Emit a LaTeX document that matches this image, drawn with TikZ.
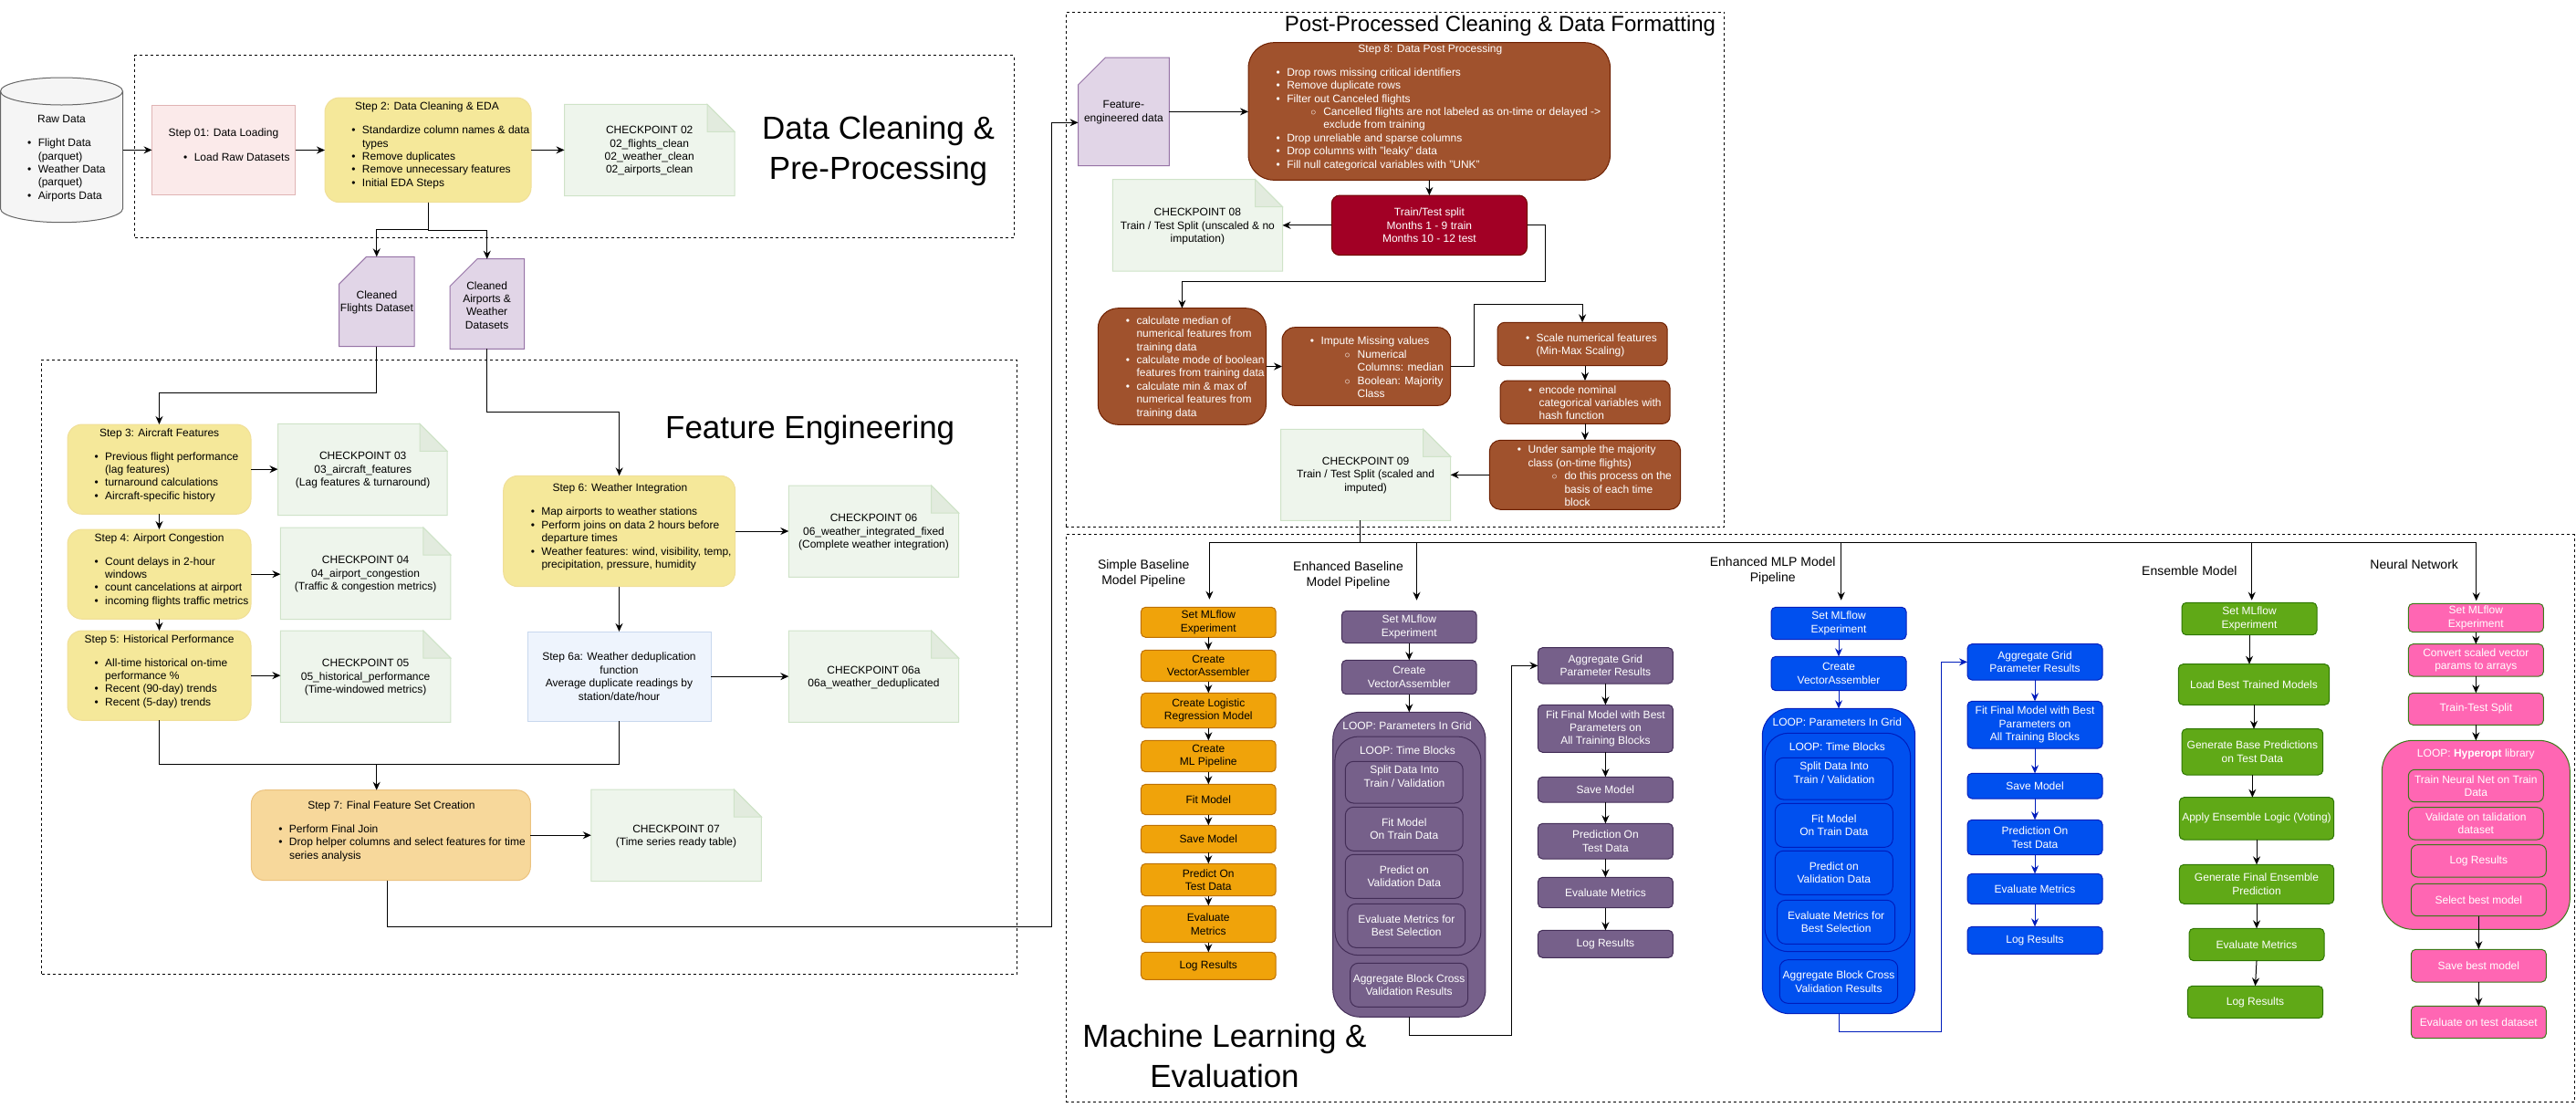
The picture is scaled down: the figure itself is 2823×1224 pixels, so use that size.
\documentclass[tikz,border=0pt]{standalone}
\usepackage{fontspec}
\setmainfont{Liberation Sans}
\usetikzlibrary{arrows.meta}
\definecolor{yel}{HTML}{F5E89A}\definecolor{yels}{HTML}{F0DF98}
\definecolor{ckf}{HTML}{EEF5EC}\definecolor{cks}{HTML}{CFE3C8}\definecolor{ckd}{HTML}{E2EBDE}
\definecolor{brn}{HTML}{A0522D}\definecolor{brns}{HTML}{6D1F00}
\definecolor{orf}{HTML}{F0A30A}\definecolor{ors}{HTML}{BD7000}
\definecolor{puf}{HTML}{76608A}\definecolor{pus}{HTML}{432D57}
\definecolor{blf}{HTML}{0050EF}\definecolor{bls}{HTML}{001DBC}
\definecolor{grf}{HTML}{60A917}\definecolor{grs}{HTML}{2D7600}
\definecolor{pkf}{HTML}{FF66B3}
\definecolor{crf}{HTML}{E1D5E7}\definecolor{crs}{HTML}{9673A6}
\definecolor{pinkl}{HTML}{FBEAEA}\definecolor{pinks}{HTML}{E0B4B4}
\definecolor{skyl}{HTML}{EEF4FD}\definecolor{skys}{HTML}{C8D8EE}
\definecolor{tanf}{HTML}{F7D89B}\definecolor{tans}{HTML}{EBC27F}
\definecolor{crim}{HTML}{A20025}\definecolor{crims}{HTML}{6F0000}
\definecolor{cylf}{HTML}{F5F5F5}\definecolor{cyls}{HTML}{666666}
\tikzset{
  base/.style={inner sep=0pt,outer sep=0pt,align=center,rectangle},
  ghost/.style={base},
  txt/.style={inner sep=0pt,outer sep=0pt,align=center},
  frame/.style={base,draw=black,line width=1pt,dash pattern=on 3pt off 3pt},
  arr/.style={draw=black,line width=1pt,-{Stealth[length=9pt,width=8pt,inset=3pt]}},
  ln/.style={draw=black,line width=1pt},
  barr/.style={arr,draw=bls,-{Stealth[length=9pt,width=8pt,inset=3pt,bls]}},
  stepy/.style={base,fill=yel,draw=yels,line width=1pt,rounded corners=16pt},
  brnb/.style={base,fill=brn,draw=brns,line width=1pt,rounded corners=#1,text=white},
  orb/.style={base,fill=orf,draw=ors,line width=1pt,rounded corners=5pt,text=black},
  pub/.style={base,fill=puf,draw=pus,line width=1pt,rounded corners=#1,text=white},
  pub/.default=5pt,
  blb/.style={base,fill=blf,draw=bls,line width=1pt,rounded corners=#1,text=white},
  blb/.default=5pt,
  grb/.style={base,fill=grf,draw=grs,line width=1pt,rounded corners=5pt,text=white},
  pkb/.style={base,fill=pkf,draw=grs!80!gray,line width=1pt,rounded corners=#1,text=white},
  pkb/.default=5pt,
}
\newcommand\bxx[7]{\pgfmathsetmacro\bxw{#5-#3}\pgfmathsetmacro\bxh{#6-#4}\pgfmathsetmacro\bxc{(#3+#5)/2}\pgfmathsetmacro\bxm{(#4+#6)/2}\node[#1,minimum width=\bxw pt,minimum height=\bxh pt] (#2) at (\bxc,\bxm) {#7};}
\newcommand\ctrt[5][]{\node[txt,#1] (#2) at (#3,#4) {#5};}
\newcommand\lsts[5][]{\node[txt,align=left,anchor=west,#1] (#2) at (#3,#4) {#5};}
\newcommand\ckpt[5]{\bxx{ghost}{#1}{#2}{#3}{#4}{#5}{}
  \draw[fill=ckf,draw=cks,line width=1pt] (#2,#3) -- ({#4-30},#3) -- (#4,{#3+30}) -- (#4,#5) -- (#2,#5) -- cycle;
  \draw[fill=ckd,draw=cks,line width=1pt] ({#4-30},#3) -- (#4,{#3+30}) -- ({#4-30},{#3+30}) -- cycle;}
\newcommand\crd[5]{\bxx{ghost}{#1}{#2}{#3}{#4}{#5}{}
  \draw[fill=crf,draw=crs,line width=1pt] ({#2+30},#3) -- (#4,#3) -- (#4,#5) -- (#2,#5) -- (#2,{#3+30}) -- cycle;}
\newcommand\bul{\leavevmode\llap{\textbullet\hspace{7.5pt}}}
\newcommand\subul{\hspace*{40pt}\llap{$\circ$\hspace{8pt}}}
\newcommand\subin{\hspace*{40pt}}
\newcommand\bigf{\fontsize{35}{43.2}\selectfont}
\newcommand\midf{\fontsize{24}{28.8}\selectfont}
\newcommand\labf{\fontsize{14}{16.8}\selectfont}
\begin{document}
\begin{tikzpicture}[x=1pt,y=-1pt,every node/.style={font=\fontsize{12}{14.4}\selectfont}]
\useasboundingbox (0,0) rectangle (2823,1224);
% frames
\bxx{frame}{frA}{147.5}{60.7}{1111}{260}{}
\bxx{frame}{frB}{45.5}{394.3}{1114}{1067.7}{}
\bxx{frame}{frC}{1168}{13.3}{1889.7}{577.7}{}
\bxx{frame}{frD}{1168}{585.7}{2821.3}{1207.3}{}
% titles
\ctrt[font=\bigf]{tA}{962.6}{165.5}{Data Cleaning \&\\Pre-Processing}
\ctrt[font=\bigf]{tB}{887.7}{471}{Feature Engineering}
\ctrt[font=\midf]{tC}{1644}{28.3}{Post-Processed Cleaning \& Data Formatting}
\ctrt[font=\bigf]{tD}{1342}{1157}{Machine Learning \&\\Evaluation}
% raw data cylinder
\bxx{ghost}{raw}{0.5}{85}{134.5}{243.7}{}
\draw[fill=cylf,draw=cyls,line width=1pt] (0.5,100) -- (0.5,228.7) .. controls (0.5,237) and (30.6,243.7) .. (67.5,243.7) .. controls (104.4,243.7) and (134.5,237) .. (134.5,228.7) -- (134.5,100) .. controls (134.5,91.7) and (104.4,85) .. (67.5,85) .. controls (30.6,85) and (0.5,91.7) .. (0.5,100) -- cycle;
\draw[draw=cyls,line width=1pt] (0.5,100) .. controls (0.5,108.3) and (30.6,115) .. (67.5,115) .. controls (104.4,115) and (134.5,108.3) .. (134.5,100);
\ctrt{rawT}{67.5}{130.7}{Raw Data}
\lsts{rawL}{41.8}{186.4}{\bul Flight Data\\(parquet)\\\bul Weather Data\\(parquet)\\\bul Airports Data}
% step 1
\bxx{base,fill=pinkl,draw=pinks,line width=1pt}{s1}{166.5}{115.3}{323.5}{213.7}{}
\ctrt{s1T}{245}{146}{Step 01: Data Loading}
\lsts{s1L}{212.8}{172.7}{\bul Load Raw Datasets}
% step 2
\bxx{stepy}{s2}{356}{107}{582}{221.7}{}
\ctrt{s2T}{468}{117}{Step 2: Data Cleaning \& EDA}
\lsts{s2L}{397}{172.4}{\bul Standardize column names \& data\\types\\\bul Remove duplicates\\\bul Remove unnecessary features\\\bul Initial EDA Steps}
\ckpt{c2}{618.5}{114.3}{805}{214.7}
\ctrt{c2T}{711.7}{165.3}{CHECKPOINT 02\\02\_flights\_clean\\02\_weather\_clean\\02\_airports\_clean}
\crd{cf}{371.5}{281.3}{454}{379.7}
\ctrt{cfT}{413}{331.2}{Cleaned\\Flights Dataset}
\crd{ca}{493}{283.7}{574.5}{382.3}
\ctrt{caT}{533.6}{334.5}{Cleaned\\Airports \&\\Weather\\Datasets}
% step 3
\bxx{stepy}{s3}{74}{465}{275}{563.3}{}
\ctrt{s3T}{174.6}{475}{Step 3: Aircraft Features}
\lsts{s3L}{115.2}{522.5}{\bul Previous flight performance\\(lag features)\\\bul turnaround calculations\\\bul Aircraft-specific history}
\ckpt{c3}{304.5}{464.3}{490}{564.7}
\ctrt{c3T}{397.7}{515.3}{CHECKPOINT 03\\03\_aircraft\_features\\(Lag features \& turnaround)}
% step 4
\bxx{stepy}{s4}{74}{580}{275}{678.3}{}
\ctrt{s4T}{174.6}{590}{Step 4: Airport Congestion}
\lsts{s4L}{115.2}{637.5}{\bul Count delays in 2-hour\\windows\\\bul count cancelations at airport\\\bul incoming flights traffic metrics}
\ckpt{c4}{307.4}{578}{493.8}{678.7}
\ctrt{c4T}{400.6}{629.3}{CHECKPOINT 04\\04\_airport\_congestion\\(Traffic \& congestion metrics)}
% step 5
\bxx{stepy}{s5}{74}{691}{275}{789.3}{}
\ctrt{s5T}{174.6}{701}{Step 5: Historical Performance}
\lsts{s5L}{115.2}{748.5}{\bul All-time historical on-time\\performance \%\\\bul Recent (90-day) trends\\\bul Recent (5-day) trends}
\ckpt{c5}{307.4}{691}{493.8}{791.3}
\ctrt{c5T}{400.6}{742.3}{CHECKPOINT 05\\05\_historical\_performance\\(Time-windowed metrics)}
% step 6
\bxx{stepy}{s6}{551.7}{521.3}{805.6}{642.7}{}
\ctrt{s6T}{679.4}{535}{Step 6: Weather Integration}
\lsts{s6L}{593.5}{590.5}{\bul Map airports to weather stations\\\bul Perform joins on data 2 hours before\\departure times\\\bul Weather features: wind, visibility, temp,\\precipitation, pressure, humidity}
\ckpt{c6}{864.3}{532}{1050.6}{632.3}
\ctrt{c6T}{957.5}{583.3}{CHECKPOINT 06\\06\_weather\_integrated\_fixed\\(Complete weather integration)}
\bxx{base,fill=skyl,draw=skys,line width=1pt}{s6a}{578}{692}{779}{790.3}{Step 6a: Weather deduplication\\function\\Average duplicate readings by\\station/date/hour}
\ckpt{c6a}{864.3}{691}{1050.6}{791.3}
\ctrt{c6aT}{957.5}{742.3}{CHECKPOINT 06a\\06a\_weather\_deduplicated}
% step 7
\bxx{base,fill=tanf,draw=tans,line width=1pt,rounded corners=15pt}{s7}{275.4}{865.7}{581.3}{964.7}{}
\ctrt{s7T}{429}{883}{Step 7: Final Feature Set Creation}
\lsts{s7L}{317}{923.5}{\bul Perform Final Join\\\bul Drop helper columns and select features for time\\series analysis}
\ckpt{c7}{647.8}{865}{834.3}{965.7}
\ctrt{c7T}{741}{916.3}{CHECKPOINT 07\\(Time series ready table)}
% post processing
\crd{fe}{1181.5}{63}{1281.4}{181.7}
\ctrt{feT}{1231.4}{123}{Feature-\\engineered data}
\bxx{brnb=28pt}{s8}{1368}{46.7}{1764.6}{197.3}{}
\ctrt[text=white]{s8T}{1567.4}{54}{Step 8: Data Post Processing}
\lsts[text=white]{s8L}{1410.3}{130.5}{\bul Drop rows missing critical identifiers\\\bul Remove duplicate rows\\\bul Filter out Canceled flights\\\subul Cancelled flights are not labeled as on-time or delayed ->\\\subin exclude from training\\\bul Drop unreliable and sparse columns\\\bul Drop columns with "leaky" data\\\bul Fill null categorical variables with "UNK"}
\bxx{base,fill=crim,draw=crims,line width=1pt,rounded corners=9pt,text=white}{tt}{1459.3}{214}{1673.5}{279.7}{Train/Test split\\Months 1 - 9 train\\Months 10 - 12 test}
\ckpt{c8}{1219.3}{196.7}{1405.5}{297}
\ctrt{c8T}{1312.4}{248.3}{CHECKPOINT 08\\Train / Test Split (unscaled \& no\\imputation)}
\bxx{brnb=22pt}{calc}{1203.3}{337.7}{1387.5}{465.3}{}
\lsts[text=white]{calcL}{1245.5}{402.5}{\bul calculate median of\\numerical features from\\training data\\\bul calculate mode of boolean\\features from training data\\\bul calculate min \& max of\\numerical features from\\training data}
\bxx{brnb=14pt}{imp}{1405}{358.7}{1589.7}{444.3}{}
\lsts[text=white]{impL}{1447.6}{402.5}{\bul Impute Missing values\\\subul Numerical\\\subin Columns: median\\\subul Boolean: Majority\\\subin Class}
\bxx{brnb=8pt}{sc}{1641}{353.3}{1827.2}{400.7}{}
\lsts[text=white]{scL}{1683.7}{378.5}{\bul Scale numerical features\\(Min-Max Scaling)}
\bxx{brnb=8pt}{en}{1644}{417}{1830}{464.3}{}
\lsts[text=white]{enL}{1686.6}{441.3}{\bul encode nominal\\categorical variables with\\hash function}
\bxx{brnb=12pt}{un}{1632.3}{482.3}{1841.7}{558.3}{}
\lsts[text=white]{unL}{1674.5}{521.5}{\bul Under sample the majority\\class (on-time flights)\\\subul do this process on the\\\subin basis of each time\\\subin block}
\ckpt{c9}{1403.5}{470.3}{1589.7}{570.3}
\ctrt{c9T}{1496.6}{521}{CHECKPOINT 09\\Train / Test Split (scaled and\\imputed)}
% pipeline labels
\ctrt[font=\labf]{l1}{1253.2}{628.5}{Simple Baseline\\Model Pipeline}
\ctrt[font=\labf]{l2}{1477.5}{630.5}{Enhanced Baseline\\Model Pipeline}
\ctrt[font=\labf]{l3}{1942.7}{625.5}{Enhanced MLP Model\\Pipeline}
\ctrt[font=\labf]{l4}{2399.3}{625}{Ensemble Model}
\ctrt[font=\labf]{l5}{2645.7}{618}{Neural Network}
% orange
\bxx{orb}{o1}{1250.4}{665.3}{1398.2}{698.3}{Set MLflow\\Experiment}
\bxx{orb}{o2}{1250.4}{712.3}{1398.2}{746.7}{Create\\VectorAssembler}
\bxx{orb}{o3}{1250.4}{759.3}{1398.2}{797.7}{Create Logistic\\Regression Model}
\bxx{orb}{o4}{1250.4}{811.3}{1398.2}{845.7}{Create\\ML Pipeline}
\bxx{orb}{o5}{1250.4}{859.3}{1398.2}{892.7}{Fit Model}
\bxx{orb}{o6}{1250.4}{904.3}{1398.2}{934.3}{Save Model}
\bxx{orb}{o7}{1250.4}{946.3}{1398.2}{981.7}{Predict On\\Test Data}
\bxx{orb}{o8}{1250.4}{992.3}{1398.2}{1032.7}{Evaluate\\Metrics}
\bxx{orb}{o9}{1250.4}{1043.3}{1398.2}{1073.3}{Log Results}
% purple
\bxx{pub}{p1}{1470.4}{669.3}{1618.2}{704.7}{Set MLflow\\Experiment}
\bxx{pub}{p2}{1470.4}{723.3}{1618.2}{760.7}{Create\\VectorAssembler}
\bxx{pub=30pt}{pO}{1460.7}{780.3}{1627.9}{1114.3}{}
\ctrt[text=white]{pOT}{1542}{794.7}{LOOP: Parameters In Grid}
\bxx{pub=26pt}{pI}{1462.9}{807}{1622.9}{1046.7}{}
\ctrt[text=white]{pIT}{1542.5}{821.7}{LOOP: Time Blocks}
\bxx{pub=9pt}{p3}{1474.3}{834.3}{1603.2}{880}{}
\ctrt[text=white]{p3T}{1539}{850.7}{Split Data Into\\Train / Validation}
\bxx{pub=9pt}{p4}{1474.3}{884.3}{1603.2}{932.3}{Fit Model\\On Train Data}
\bxx{pub=9pt}{p5}{1474.3}{936.3}{1603.2}{984.3}{Predict on\\Validation Data}
\bxx{pub=9pt}{p6}{1476.8}{990.3}{1605.7}{1038.3}{Evaluate Metrics for\\Best Selection}
\bxx{pub=9pt}{p7}{1479.6}{1055.3}{1608.6}{1103.3}{Aggregate Block Cross\\Validation Results}
\bxx{pub}{q1}{1685.4}{709.7}{1833.4}{749}{Aggregate Grid\\Parameter Results}
\bxx{pub}{q2}{1685.4}{772.3}{1833.4}{824.3}{Fit Final Model with Best\\Parameters on\\All Training Blocks}
\bxx{pub}{q3}{1685.4}{851.3}{1833.4}{879}{Save Model}
\bxx{pub}{q4}{1685.4}{902.3}{1833.4}{941}{Prediction On\\Test Data}
\bxx{pub}{q5}{1685.4}{961.3}{1833.4}{994.7}{Evaluate Metrics}
\bxx{pub}{q6}{1685.4}{1019.3}{1833.4}{1049.3}{Log Results}
% blue
\bxx{blb}{b1}{1941}{665.3}{2089}{700.7}{Set MLflow\\Experiment}
\bxx{blb}{b2}{1941}{719.3}{2089}{756.7}{Create\\VectorAssembler}
\bxx{blb=30pt}{bO}{1931.3}{776.3}{2098.7}{1110.7}{}
\ctrt[text=white]{bOT}{2013.3}{790.7}{LOOP: Parameters In Grid}
\bxx{blb=26pt}{bI}{1934}{803.3}{2093.7}{1042.7}{}
\ctrt[text=white]{bIT}{2013.3}{817.7}{LOOP: Time Blocks}
\bxx{blb=9pt}{b3}{1945.3}{830.3}{2074.3}{876}{}
\ctrt[text=white]{b3T}{2010}{846.7}{Split Data Into\\Train / Validation}
\bxx{blb=9pt}{b4}{1945.3}{880.3}{2074.3}{928.3}{Fit Model\\On Train Data}
\bxx{blb=9pt}{b5}{1945.3}{932.3}{2074.3}{980.3}{Predict on\\Validation Data}
\bxx{blb=9pt}{b6}{1947.7}{986.3}{2076.7}{1034.3}{Evaluate Metrics for\\Best Selection}
\bxx{blb=9pt}{b7}{1950.3}{1051.7}{2079.7}{1099.3}{Aggregate Block Cross\\Validation Results}
\bxx{blb}{d1}{2156}{705.7}{2304}{745}{Aggregate Grid\\Parameter Results}
\bxx{blb}{d2}{2156}{768.3}{2304}{820}{Fit Final Model with Best\\Parameters on\\All Training Blocks}
\bxx{blb}{d3}{2156}{847.3}{2304}{875}{Save Model}
\bxx{blb}{d4}{2156}{898.3}{2304}{936.7}{Prediction On\\Test Data}
\bxx{blb}{d5}{2156}{957.3}{2304}{990.7}{Evaluate Metrics}
\bxx{blb}{d6}{2156}{1015.3}{2304}{1045.3}{Log Results}
% green
\bxx{grb}{g1}{2391}{660.3}{2539}{695.7}{Set MLflow\\Experiment}
\bxx{grb}{g2}{2387.3}{727.7}{2552.7}{772.3}{Load Best Trained Models}
\bxx{grb}{g3}{2391}{798.7}{2545.7}{849}{Generate Base Predictions\\on Test Data}
\bxx{grb}{g4}{2388.3}{873.7}{2557.7}{920}{Apply Ensemble Logic (Voting)}
\bxx{grb}{g5}{2388.3}{947.3}{2557.7}{990.3}{Generate Final Ensemble\\Prediction}
\bxx{grb}{g6}{2399}{1017.3}{2547}{1052.7}{Evaluate Metrics}
\bxx{grb}{g7}{2397.3}{1080.3}{2545.7}{1115.7}{Log Results}
% pink
\bxx{pkb}{k1}{2639.3}{661.3}{2787.3}{692.7}{Set MLflow\\Experiment}
\bxx{pkb}{k2}{2639.3}{705.7}{2787.3}{741}{Convert scaled vector\\params to arrays}
\bxx{pkb}{k3}{2639.3}{759.3}{2787.3}{794.3}{Train-Test Split}
\bxx{pkb=34pt}{kO}{2610.3}{811.3}{2816.3}{1018.3}{}
\ctrt[text=white]{kOT}{2713.3}{826}{LOOP: \textbf{Hyperopt} library}
\bxx{pkb=7pt}{k4}{2639.3}{843.3}{2787.3}{878.7}{Train Neural Net on Train\\Data}
\bxx{pkb=7pt}{k5}{2639.3}{884.7}{2787.3}{920}{Validate on talidation\\dataset}
\bxx{pkb=7pt}{k6}{2642.3}{925.7}{2790.3}{961}{Log Results}
\bxx{pkb=7pt}{k7}{2642.3}{968.3}{2790.3}{1003.7}{Select best model}
\bxx{pkb}{k8}{2642.3}{1040.3}{2790.3}{1076}{Save best model}
\bxx{pkb}{k9}{2642.3}{1102.3}{2790.3}{1137.7}{Evaluate on test dataset}
% coordinates
\coordinate (s7out) at (424.6,964.7);
\coordinate (fein) at (1181.5,134.3);
\coordinate (mrg) at (412.7,837.3);
\coordinate (hub) at (1490.3,594.3);
\coordinate (e1) at (1325.4,656.7);
\coordinate (e2) at (1552.5,657.7);
\coordinate (e3) at (2017.7,657.7);
\coordinate (e4) at (2467.7,657.7);
\coordinate (e5) at (2713.7,658.3);
% connectors
\draw[arr] (raw.east) -- (raw.east -| s1.west);
\draw[arr] (s1.east) -- (s1.east -| s2.west);
\draw[arr] (s2.east) -- (s2.east -| c2.west);
\draw[arr] (s2.south) -- ++(0,30) -| (cf.north);
\draw[arr] (s2.south) -- ++(0,31) -| (ca.north);
\draw[arr] (cf.south) -- ++(0,50.6) -| (s3.north);
\draw[arr] (ca.south) -- ++(0,69.4) -| (s6.north);
\draw[arr] (s3.east) -- (s3.east -| c3.west);
\draw[arr] (s4.east) -- (s4.east -| c4.west);
\draw[arr] (s5.east) -- (s5.east -| c5.west);
\draw[arr] (s3.south) -- (s4.north);
\draw[arr] (s4.south) -- (s5.north);
\draw[arr] (s6.east) -- (s6.east -| c6.west);
\draw[arr] (s6a.east) -- (s6a.east -| c6a.west);
\draw[arr] (s6a.north |- s6.south) -- (s6a.north);
\draw[ln] (s5.south) |- (mrg);
\draw[ln] (s6a.south) |- (mrg);
\draw[arr] (mrg) -- (mrg |- s7.north);
\draw[arr] (s7.east) -- (s7.east -| c7.west);
\draw[arr] (s7out) -- ++(0,50.6) -- ++(727.6,0) |- (fein);
\draw[arr] (fe.east) -- (fe.east -| s8.west);
\draw[arr] (s8.south) -- (tt.north);
\draw[arr] (tt.west) -- (c8.east);
\draw[arr] (tt.east) -- ++(20,0) -- ++(0,61.7) -| (calc.north);
\draw[arr] (calc.east) -- (imp.west);
\draw[arr] (imp.east) -- ++(25.6,0) -- ++(0,-68.4) -| (sc.north);
\draw[arr] (en.north |- sc.south) -- (en.north);
\draw[arr] (en.south) -- (un.north);
\draw[arr] (un.west) -- (c9.east);
\draw[ln] (hub |- c9.south) -- (hub);
\draw[arr] (hub) -| (e1);
\draw[arr] (hub) -| (e2);
\draw[arr] (hub) -| (e3);
\draw[arr] (hub) -| (e4);
\draw[arr] (hub) -| (e5);
\foreach \a/\b in {o1/o2,o2/o3,o3/o4,o4/o5,o5/o6,o6/o7,o7/o8,o8/o9,p1/p2,p2/pO,q1/q2,q2/q3,q3/q4,q4/q5,q5/q6,k1/k2,k2/k3,k3/kO,k7/k8,k8/k9}
  {\draw[arr] (\a.south) -- (\b.north);}
\foreach \a/\b in {b1/b2,b2/bO,d1/d2,d2/d3,d3/d4,d4/d5,d5/d6}
  {\draw[barr] (\a.south) -- (\b.north);}
\draw[arr] (pO.south) -- ++(0,20) -- ++(112.5,0) |- (q1.west);
\draw[barr] (bO.south) -- ++(0,19.6) -- ++(112.3,0) |- (d1.west);
\draw[arr] (g1.south) -- (g1.south |- g2.north);
\draw[arr] (g2.south) -- (g2.south |- g3.north);
\draw[arr] (g3.south) -- (g3.south |- g4.north);
\draw[arr] (g4.south) -- (g5.north);
\draw[arr] (g5.south) -- (g6.north);
\draw[arr] (g6.south) -- (g7.north);
\end{tikzpicture}
\end{document}
